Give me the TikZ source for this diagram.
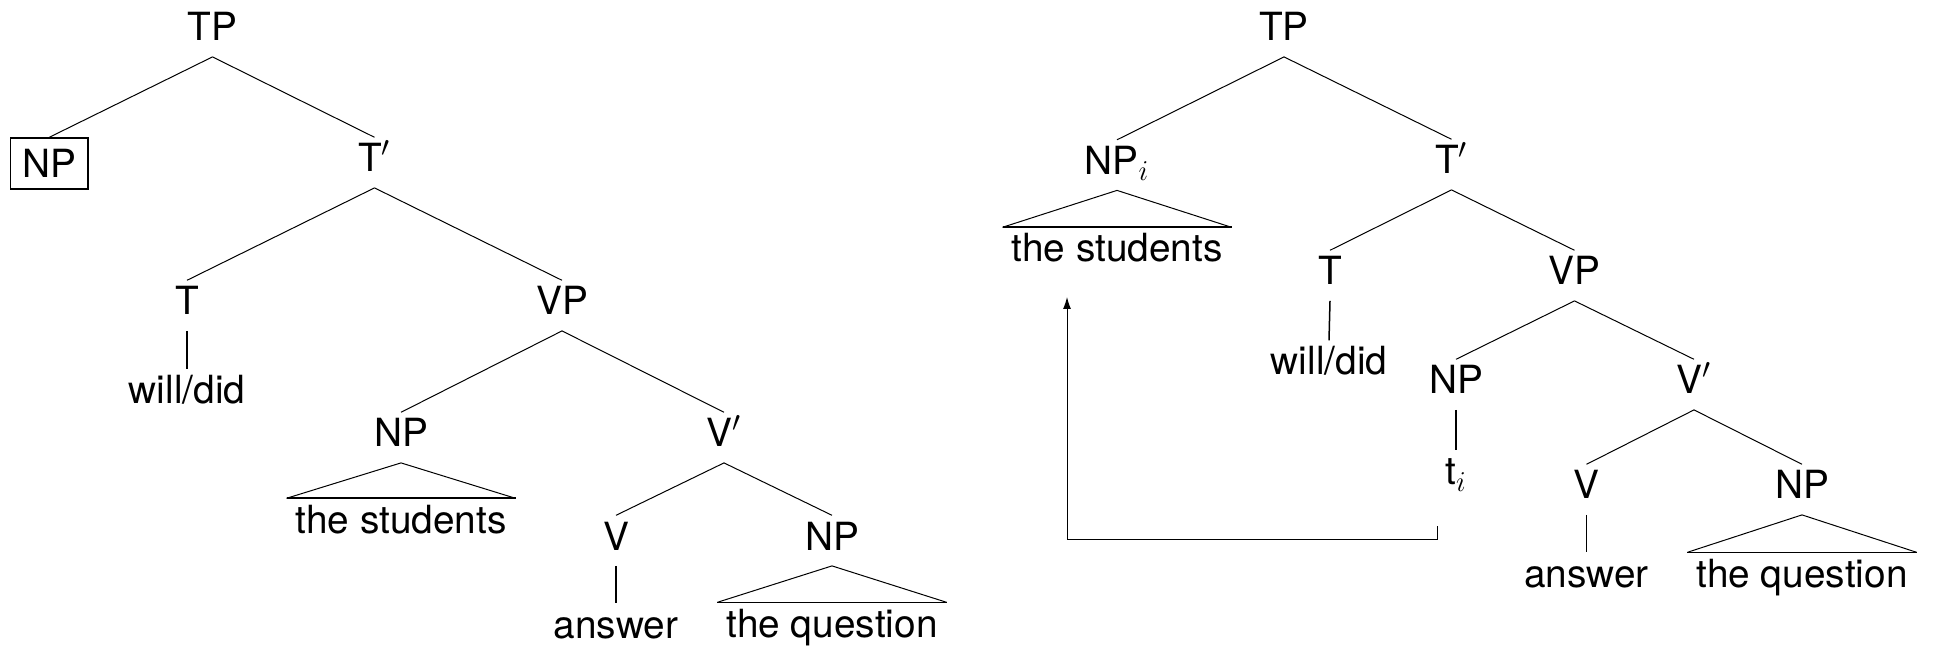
\documentclass[tikz,border=0pt]{standalone}
\usepackage{fontspec}
\setmainfont{TeX Gyre Heros}
\usetikzlibrary{arrows.meta}
\begin{document}
\begin{tikzpicture}[x=0.5pt,y=-0.5pt,
  lab/.style={anchor=base, font=\fontsize{19.4pt}{23pt}\selectfont, inner xsep=4.3pt, inner ysep=3.25pt, text height=13.9pt, text depth=4.5pt},
  boxlab/.style={draw, line width=0.7pt, font=\fontsize{19.4pt}{23pt}\selectfont, inner sep=5.8pt, text height=13.9pt, text depth=0pt},
  edge/.style={line width=0.5pt},
  unary/.style={line width=0.75pt},
  tribase/.style={line width=0.8pt},
  mv/.style={line width=0.5pt, -{Latex[length=6pt,width=4pt]}}]
\useasboundingbox (0,0) rectangle (1933,646);

% ---------- left tree ----------
\node[lab] (lTP) at (212.5,41) {TP};
\node[boxlab] (lNP) at (49.3,163.5) {NP};
\node[lab] (lTb) at (374.5,172) {T$'$};
\node[lab] (lT) at (187,315) {T};
\node[lab] (lVP) at (562,315) {VP};
\node[lab] (lwill) at (187,404) {will/did};
\node[lab] (lNP2) at (401,447) {NP};
\node[lab] (lVb) at (724,447) {V$'$};
\node[lab] (lstud) at (401,533) {the students};
\node[lab] (lV) at (616,550) {V};
\node[lab] (lNP3) at (832,550) {NP};
\node[lab] (lans) at (616,638) {answer};
\node[lab] (lq) at (832,637) {the question};

\draw[edge] (lTP.south) -- (lNP.north);
\draw[edge] (lTP.south) -- (lTb.north);
\draw[edge] (lTb.south) -- (lT.north);
\draw[edge] (lTb.south) -- (lVP.north);
\draw[unary] (lT.south) -- (lwill.north);
\draw[edge] (lVP.south) -- (lNP2.north);
\draw[edge] (lVP.south) -- (lVb.north);
\draw[edge] (lstud.north west) -- (lNP2.south) -- (lstud.north east);
\draw[tribase] (lstud.north west) -- (lstud.north east);
\draw[edge] (lVb.south) -- (lV.north);
\draw[edge] (lVb.south) -- (lNP3.north);
\draw[unary] (lV.south) -- (lans.north);
\draw[edge] (lq.north west) -- (lNP3.south) -- (lq.north east);
\draw[tribase] (lq.north west) -- (lq.north east);

% ---------- right tree ----------
\node[lab] (rTP) at (1284,41) {TP};
\node[lab] (rNPi) at (1117,174.5) {NP$_i$};
\node[lab] (rTb) at (1451.5,174) {T$'$};
\node[lab] (rstud) at (1117,262) {the students};
\node[lab] (rT) at (1330,285) {T};
\node[lab] (rVP) at (1574.5,285) {VP};
\node[lab] (rwill) at (1329,375) {will/did};
\node[lab] (rNP) at (1456,394) {NP};
\node[lab] (rVb) at (1694,394) {V$'$};
\node[lab] (rti) at (1456,485) {t$_i$};
\node[lab] (rV) at (1586.5,499) {V};
\node[lab] (rNP2) at (1802,499) {NP};
\node[lab] (rans) at (1586.5,587) {answer};
\node[lab] (rq) at (1802,587) {the question};

\draw[edge] (rTP.south) -- (rNPi.north);
\draw[edge] (rTP.south) -- (rTb.north);
\draw[edge] (rstud.north west) -- (rNPi.south) -- (rstud.north east);
\draw[tribase] (rstud.north west) -- (rstud.north east);
\draw[edge] (rTb.south) -- (rT.north);
\draw[edge] (rTb.south) -- (rVP.north);
\draw[unary] (rT.south) -- (rwill.north);
\draw[edge] (rVP.south) -- (rNP.north);
\draw[edge] (rVP.south) -- (rVb.north);
\draw[unary] (rNP.south) -- (rti.north);
\draw[edge] (rVb.south) -- (rV.north);
\draw[edge] (rVb.south) -- (rNP2.north);
\draw[unary] (rV.south) -- (rans.north);
\draw[edge] (rq.north west) -- (rNP2.south) -- (rq.north east);
\draw[tribase] (rq.north west) -- (rq.north east);

% movement arrow
\coordinate (mS) at (1437,526);
\coordinate (mA) at (1437,539);
\coordinate (mB) at (1067,539);
\coordinate (mE) at (1067,297);
\draw[mv] (mS) -- (mA) -- (mB) -- (mE);
\end{tikzpicture}
\end{document}
